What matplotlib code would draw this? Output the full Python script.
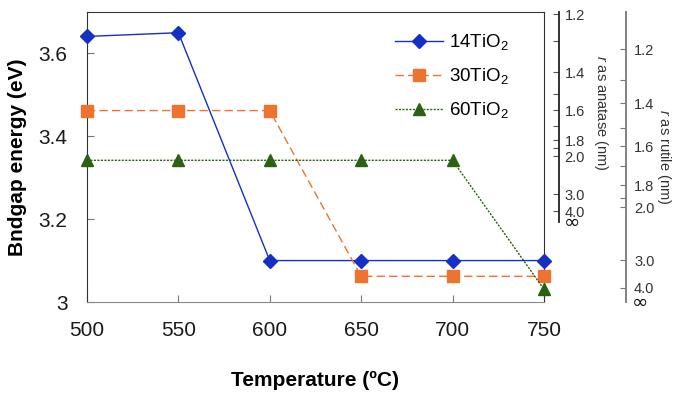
import matplotlib
matplotlib.use("Agg")
import matplotlib.pyplot as plt
from matplotlib.transforms import blended_transform_factory

plt.rcParams["font.family"] = ["Liberation Sans", "DejaVu Sans"]
plt.rcParams["mathtext.fontset"] = "custom"
plt.rcParams["mathtext.rm"] = "Liberation Sans"
plt.rcParams["mathtext.it"] = "Liberation Sans:italic"

temps = [500, 550, 600, 650, 700, 750]
tio2_14 = [3.641, 3.650, 3.100, 3.100, 3.100, 3.100]
tio2_30 = [3.462, 3.462, 3.462, 3.062, 3.062, 3.062]
tio2_60 = [3.342, 3.342, 3.342, 3.342, 3.342, 3.031]

# particle radius scales, as bandgap positions
anatase_labels = ["1.2", "", "1.4", "", "1.6", "", "1.8", "", "2.0", "3.0", "4.0"]
anatase_energy = [3.694, 3.631, 3.554, 3.501, 3.463, 3.424, 3.390, 3.371, 3.352, 3.260, 3.219]
anatase_bulk = 3.193
rutile_labels = ["1.2", "", "1.4", "", "1.6", "", "1.8", "", "2.0", "3.0", "4.0"]
rutile_energy = [3.610, 3.537, 3.480, 3.419, 3.376, 3.329, 3.282, 3.251, 3.229, 3.101, 3.034]
rutile_bulk = 3.0

fig, ax = plt.subplots(figsize=(6.85, 4.0), dpi=100)
fig.subplots_adjust(left=0.127, right=0.794, bottom=0.245, top=0.97)

ax.plot(temps, tio2_14, color="#1530c4", lw=1, marker="D", ms=7,
        label="14TiO$_2$", clip_on=False, zorder=3)
ax.plot(temps, tio2_30, color="#ec7430", lw=1, ls=(0, (6, 3)), marker="s", ms=9,
        label="30TiO$_2$", clip_on=False, zorder=3)
ax.plot(temps, tio2_60, color="#2a6112", lw=1, ls=(0, (1.5, 1)), marker="^", ms=9,
        label="60TiO$_2$", clip_on=False, zorder=3)

ax.set_xlim(500, 750)
ax.set_ylim(3.0, 3.7)
ax.set_xticks(temps)
ax.set_yticks([3.0, 3.2, 3.4, 3.6])
ax.set_yticklabels(["3", "3.2", "3.4", "3.6"])
ax.tick_params(axis="both", direction="in", labelsize=15, length=5, colors="#777777",
               labelcolor="#1a1a1a")
ax.tick_params(axis="x", pad=14)
ax.tick_params(axis="y", pad=14)
ax.spines["bottom"].set_color("#888888")
ax.spines["left"].set_color("#333333")
ax.spines["top"].set_color("#333333")
ax.spines["right"].set_color("#333333")

ax.set_xlabel("Temperature (\u00baC)", fontsize=15, fontweight="bold", labelpad=22)
ax.set_ylabel("Bndgap energy (eV)", fontsize=15, fontweight="bold", labelpad=8)

ax.legend(loc="upper left", bbox_to_anchor=(0.674, 0.93), frameon=False, fontsize=13.5,
          handlelength=2.56, handletextpad=0.3, labelspacing=0.75,
          borderpad=0, borderaxespad=0)

# anatase radius axis
ax2 = ax.twinx()
ax2.set_ylim(3.0, 3.7)
ax2.spines["right"].set_position(("axes", 1.033))
ax2.spines["right"].set_bounds(anatase_bulk, 3.7)
ax2.spines["right"].set_color("#222222")
ax2.spines["right"].set_linewidth(1.3)
for s in ["top", "left", "bottom"]:
    ax2.spines[s].set_visible(False)
ax2.set_yticks(anatase_energy)
ax2.set_yticklabels(anatase_labels)
ax2.tick_params(axis="y", direction="in", length=4, labelsize=10.5, pad=4,
                colors="#555555", labelcolor="#333333")
ax2.set_ylabel("$r$ as anatase (nm)", fontsize=10.5, rotation=270, color="#333333")
ax2.yaxis.set_label_coords(1.145, 0.652)
tr2 = blended_transform_factory(ax2.transAxes, ax2.transData)
ax2.text(1.043, anatase_bulk, "\u221e", transform=tr2, family="DejaVu Sans",
         fontsize=14, ha="left", va="center", color="#111111")

# rutile radius axis
ax3 = ax.twinx()
ax3.set_ylim(3.0, 3.7)
ax3.spines["right"].set_position(("axes", 1.179))
ax3.spines["right"].set_color("#777777")
ax3.spines["right"].set_linewidth(1.3)
for s in ["top", "left", "bottom"]:
    ax3.spines[s].set_visible(False)
ax3.set_yticks(rutile_energy)
ax3.set_yticklabels(rutile_labels)
ax3.tick_params(axis="y", direction="in", length=4, labelsize=10.5, pad=6,
                colors="#777777", labelcolor="#333333")
ax3.set_ylabel("$r$ as rutile (nm)", fontsize=10.5, rotation=270, color="#333333")
ax3.yaxis.set_label_coords(1.283, 0.5)
tr3 = blended_transform_factory(ax3.transAxes, ax3.transData)
ax3.text(1.192, rutile_bulk, "\u221e", transform=tr3, family="DejaVu Sans",
         fontsize=14, ha="left", va="center", color="#111111")

fig.savefig("out.png", dpi=100)
